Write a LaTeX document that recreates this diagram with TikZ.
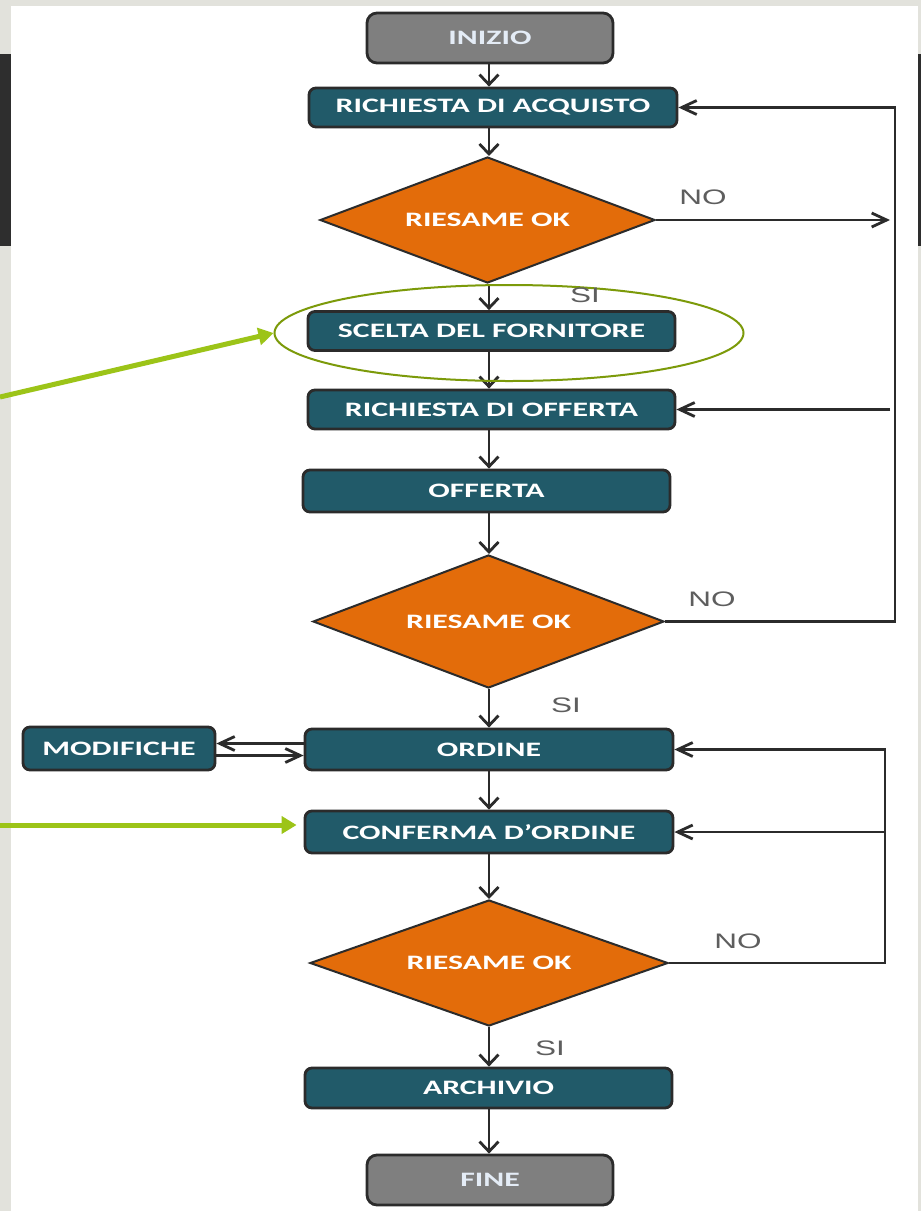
\documentclass[tikz,border=0pt]{standalone}
\usepackage{fontspec}
\usepackage{graphicx}
\setmainfont{Carlito}
\newfontfamily\lblfont{Liberation Sans}
\usetikzlibrary{shapes.geometric,arrows.meta,calc}
\definecolor{teal1}{HTML}{215A69}
\definecolor{orng}{HTML}{E36C0A}
\definecolor{gbox}{HTML}{7F7F7F}
\definecolor{lnk}{HTML}{2B2B2B}
\definecolor{bggray}{HTML}{E2E2DC}
\definecolor{darkstrip}{HTML}{2E2E2E}
\definecolor{lime}{HTML}{9CC418}
\definecolor{olive}{HTML}{7C9A0A}
\definecolor{lbl}{HTML}{5E5E5E}
\definecolor{palet}{HTML}{E4ECF6}
\newcommand{\wtxt}[1]{\scalebox{1.55}[1]{\fontsize{20.5}{24}\selectfont\bfseries #1}}
\newcommand{\lbltxt}[1]{\scalebox{1.5}[1]{\fontsize{21}{24}\selectfont\lblfont #1}}
\begin{document}
\begin{tikzpicture}[x=1pt,y=-1pt,
 procbox/.style={draw=lnk, line width=2.8pt, rounded corners=7pt, fill=teal1, text=white, minimum height=39pt, inner sep=0pt},
 termbox/.style={draw=lnk, line width=2.8pt, rounded corners=10pt, fill=gbox, text=palet, minimum width=246pt, minimum height=50pt, inner sep=0pt},
 decbox/.style={diamond, draw=lnk, line width=2pt, fill=orng, text=white, inner sep=0pt, aspect=2.66},
 conn/.style={draw=lnk, line width=2.8pt},
 varr/.style={conn, -{Straight Barb[length=10pt,width=19pt]}},
 harr/.style={conn, -{Straight Barb[length=15pt,width=14pt]}},
 yn/.style={text=lbl, inner sep=0pt},
 garr/.style={draw=lime, line width=5pt, -{Triangle[length=15pt,width=17pt]}},
 ring/.style={ellipse, draw=olive, line width=2pt, inner sep=0pt}
]
\useasboundingbox (0,0) rectangle (921,1211);
\fill[bggray] (0,0) rectangle (921,1211);
\fill[white] (11,6) rectangle (918,1211);
\fill[darkstrip] (0,54) rectangle (11,246);
\fill[darkstrip] (918,54) rectangle (921,246);

\node[termbox] (inizio) at (490,38) {\wtxt{INIZIO}};
\node[procbox, minimum width=368pt] (rda) at (493,107.5) {\wtxt{RICHIESTA DI ACQUISTO}};
\node[decbox, minimum width=335pt, minimum height=126pt] (d1) at (487.5,220) {\wtxt{RIESAME OK}};
\node[procbox, minimum width=367pt] (scelta) at (491.5,331) {\wtxt{SCELTA DEL FORNITORE}};
\node[procbox, minimum width=367pt] (rdo) at (491.5,409.5) {\wtxt{RICHIESTA DI OFFERTA}};
\node[procbox, minimum width=367pt, minimum height=42pt] (off) at (486.5,491) {\wtxt{OFFERTA}};
\node[decbox, minimum width=351pt, minimum height=133pt] (d2) at (488.5,621.5) {\wtxt{RIESAME OK}};
\node[procbox, minimum width=368pt, minimum height=41pt] (ord) at (489,749.5) {\wtxt{ORDINE}};
\node[procbox, minimum width=192pt, minimum height=43pt] (mod) at (119,748.5) {\wtxt{MODIFICHE}};
\node[procbox, minimum width=368pt, minimum height=42pt] (conf) at (489,832) {\wtxt{CONFERMA D’ORDINE}};
\node[decbox, minimum width=358pt, minimum height=126pt] (d3) at (489,963) {\wtxt{RIESAME OK}};
\node[procbox, minimum width=367pt, minimum height=40pt] (arch) at (488.5,1088) {\wtxt{ARCHIVIO}};
\node[termbox] (fine) at (490,1180) {\wtxt{FINE}};

\coordinate (col) at (489,0);
\draw[varr] (col |- inizio.south) -- (col |- rda.north);
\draw[varr] (col |- rda.south) -- (col |- d1.north);
\draw[varr] (col |- d1.south) -- (col |- scelta.north);
\draw[varr] (col |- scelta.south) -- (col |- rdo.north);
\draw[varr] (col |- rdo.south) -- (col |- off.north);
\draw[varr] (col |- off.south) -- (col |- d2.north);
\draw[varr] (col |- d2.south) -- (col |- ord.north);
\draw[varr] (col |- ord.south) -- (col |- conf.north);
\draw[varr] (col |- conf.south) -- (col |- d3.north);
\draw[varr] (col |- d3.south) -- (col |- arch.north);
\draw[varr] (col |- arch.south) -- (col |- fine.north);

\coordinate (r1) at (895,0);
\draw[harr] (d2.east) -- (r1 |- d2.east) -- (r1 |- rda.east) -- (rda.east);
\draw[harr] (d1.east) -- ([xshift=-5pt]r1 |- d1.east);
\draw[harr] ([xshift=-5pt]r1 |- rdo.east) -- (rdo.east);

\coordinate (r2) at (885,0);
\draw[harr] (d3.east) -- (r2 |- d3.east) -- (r2 |- ord.east) -- (ord.east);
\draw[harr] (r2 |- conf.east) -- (conf.east);

\draw[harr] ([yshift=6pt]ord.west) -- ([yshift=6pt]ord.west -| mod.east);
\draw[harr] ([yshift=-7pt]mod.east) -- ([yshift=-7pt]mod.east -| ord.west);

\node[ring, minimum width=469pt, minimum height=96pt] (ell) at (509,333) {};

\coordinate (g1) at (0,397);
\draw[garr] (g1) -- (ell.west);
\coordinate (g2) at (0,825);
\draw[garr] (g2) -- ([xshift=-7pt]g2 -| conf.west);

\node[yn] (no1) at (703,197) {\lbltxt{NO}};
\node[yn] (si1) at (585,295) {\lbltxt{SI}};
\node[yn] (no2) at (712,599) {\lbltxt{NO}};
\node[yn] (si2) at (566,705) {\lbltxt{SI}};
\node[yn] (no3) at (738,941) {\lbltxt{NO}};
\node[yn] (si3) at (550,1048) {\lbltxt{SI}};
\end{tikzpicture}
\end{document}
